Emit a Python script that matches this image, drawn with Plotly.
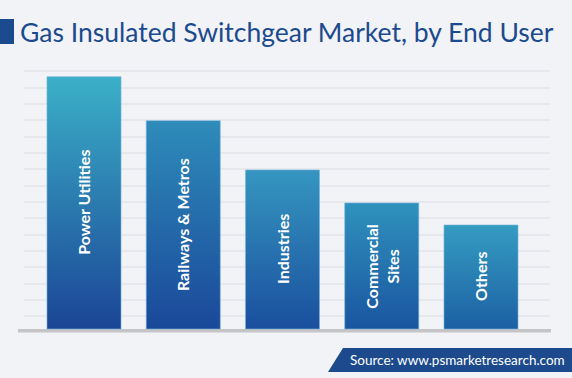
import plotly.graph_objects as go

categories = ["Power Utilities", "Railways & Metros", "Industries", "Commercial<br>Sites", "Others"]
values = [15.45, 12.76, 9.74, 7.72, 6.37]
top_colors = ["#3bb0c8", "#2e8cba", "#3596c0", "#2f92bd", "#359cc2"]
bottom_colors = ["#1b4596", "#1a489a", "#1a4f9e", "#1a55a0", "#1c60a3"]

W, H = 572, 378
ML, MR, MT, MB = 24, 22, 62, 45
PW, PH = W - ML - MR, H - MT - MB
HALF = 0.373

def px(x):
    return (x - ML) / PW

def py(y):
    return (H - MB - y) / PH

fig = go.Figure()
for i, (cat, v) in enumerate(zip(categories, values)):
    fig.add_trace(go.Scatter(
        x=[i - HALF, i + HALF, i + HALF, i - HALF, i - HALF],
        y=[0, 0, v, v, 0],
        mode="lines",
        line=dict(color="rgba(120,180,220,0.6)", width=1),
        fill="toself",
        fillgradient=dict(type="vertical",
                          colorscale=[[0, bottom_colors[i]], [1, top_colors[i]]],
                          start=0, stop=v),
        hoverinfo="skip",
        showlegend=False,
    ))
    fig.add_annotation(x=i, y=v / 2, xref="x", yref="y", text=cat, textangle=-90,
                       showarrow=False,
                       font=dict(family="Lato", size=16, color="white", weight="bold"))

shapes = [
    dict(type="line", xref="paper", yref="y", x0=px(18), x1=px(551), y0=-0.104, y1=-0.104,
         line=dict(color="#c5c5c8", width=3.5), layer="below"),
    dict(type="rect", xref="paper", yref="paper", x0=px(0), x1=px(14), y0=py(44), y1=py(19),
         fillcolor="#1c4a8e", line=dict(width=0)),
    dict(type="path", xref="paper", yref="paper",
         path=f"M {px(343)},{py(348)} L {px(572)},{py(348)} L {px(572)},{py(372)} L {px(328)},{py(372)} Z",
         fillcolor="#1c4a8c", line=dict(width=0)),
]

fig.add_annotation(x=px(348), y=py(360), xref="paper", yref="paper", xanchor="left", yanchor="middle",
                   text="Source: www.psmarketresearch.com", showarrow=False,
                   font=dict(family="Lato", size=13.5, color="white"))

fig.update_layout(
    width=W, height=H,
    margin=dict(l=ML, r=MR, t=MT, b=MB),
    paper_bgcolor="#f2f3f7", plot_bgcolor="#f2f3f7",
    hovermode=False,
    title=dict(text="Gas Insulated Switchgear Market, by End User",
               x=20 / W, xanchor="left", y=1 - 33 / H, yanchor="middle",
               font=dict(family="Lato", size=26.5, color="#1c4a8e")),
    shapes=shapes,
    xaxis=dict(range=[-(84 - ML) / 99.25, (550 - 84) / 99.25], showgrid=False, zeroline=False,
               showticklabels=False, ticks="", fixedrange=True),
    yaxis=dict(range=[-(333 - 329) / 16.33, (329 - MT) / 16.33], tick0=0.78, dtick=1,
               showgrid=True, gridcolor="#e6e8ee", gridwidth=1.5, zeroline=False,
               showticklabels=False, ticks="", fixedrange=True),
)

fig.write_html("out.html", config={"displayModeBar": False},
               post_script="document.body.style.margin='0';document.body.style.background='#f2f3f7';")
